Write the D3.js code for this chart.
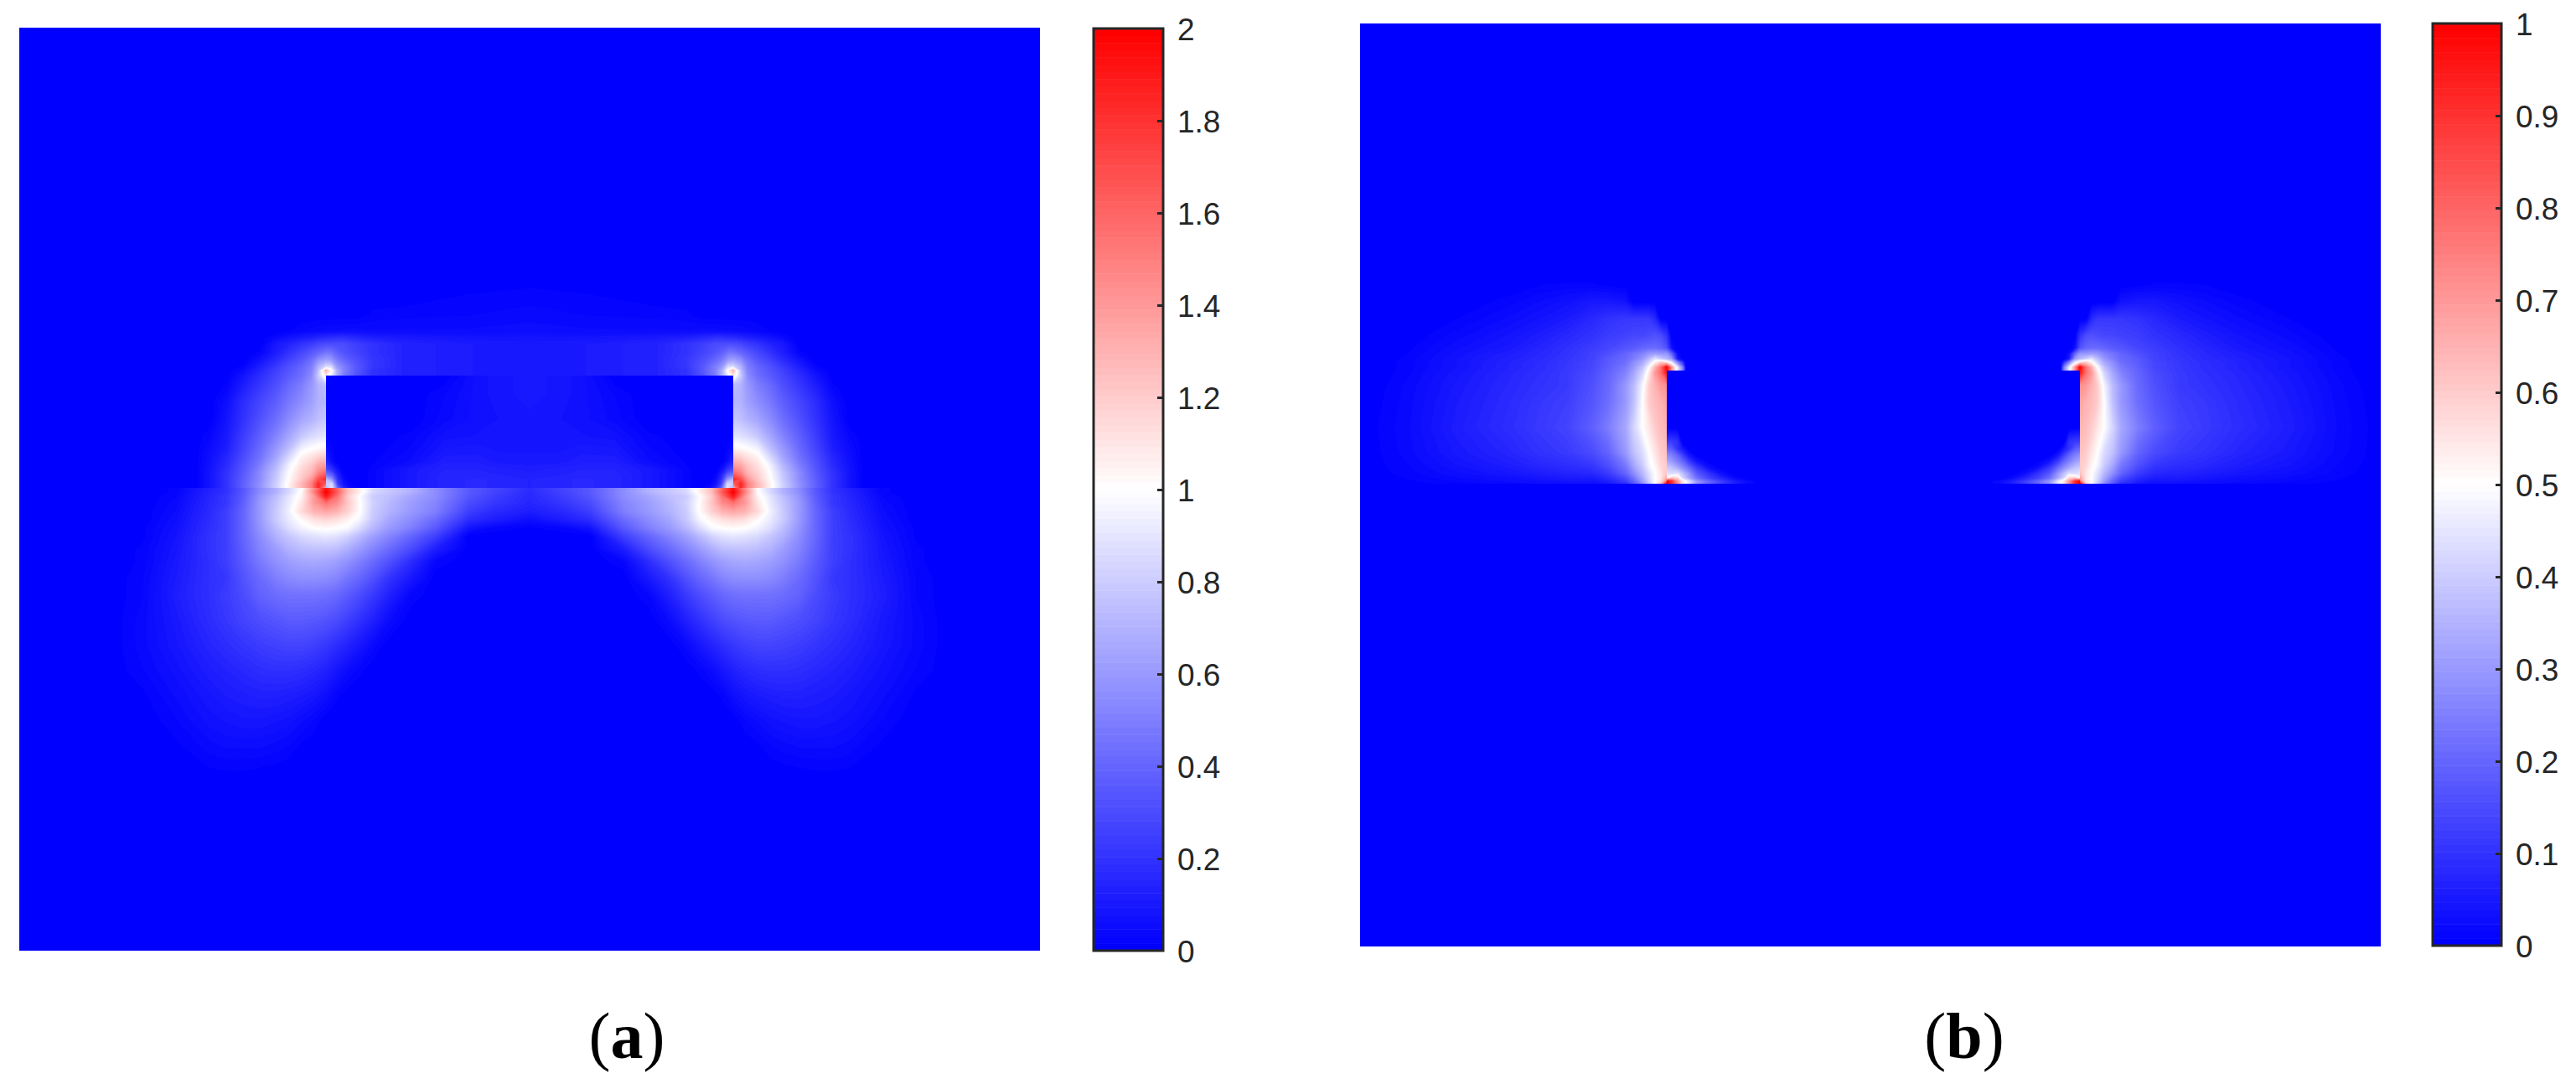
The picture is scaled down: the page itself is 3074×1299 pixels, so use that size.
<!DOCTYPE html>
<html>
<head>
<meta charset="utf-8">
<script src="https://cdn.jsdelivr.net/npm/d3@7"></script>
<style>
  html, body { margin: 0; padding: 0; background: #fff; }
  svg { display: block; }
  .cbar text { font-family: "Liberation Sans", Arial, sans-serif; font-size: 37px; fill: #262626; }
  .cbar line { stroke: #262626; stroke-width: 3px; }
  .caption { font-family: "Liberation Serif", "Times New Roman", serif; font-size: 78px; fill: #000; }
</style>
</head>
<body>
<div id="chart"></div>
<script>
// sample positions are in field units, left half of each panel only (right half is the mirror)
var aUpperX = [209, 227, 247, 267, 287, 307, 322, 337, 349, 357, 366, 372, 379, 387, 402, 422, 457, 537, 609];
var aUpperY = [287, 317, 342, 362, 369, 377, 387, 397, 404, 409, 415, 427, 447, 467, 487, 502, 512, 522, 532, 539, 544, 549];
var aUpper = [
  [0],
  [0,0,0,0,0,0,0,0,0,0,0,0,0,0,0,0,0,.015,.02],
  [0,0,0,0,0,0,0,0,0,0,0,0,0,0,0,.02,.025,.03,.04],
  [0,0,0,0,0,0,.015,.03,.04,.045,.05,.05,.05,.055,.055,.05,.05,.05,.055],
  [0,0,0,0,0,.04,.07,.1,.12,.14,.16,.17,.18,.18,.15,.12,.1,.08,.08],
  [0,0,0,0,0,.1,.14,.2,.24,.28,.3,.3,.3,.3,.25,.2,.14,.11,.1],
  [0,0,0,0,.02,.12,.2,.28,.35,.4,.45,.45,.38,.33,.27,.2,.14,.11,.1],
  [0,0,0,0,.08,.18,.27,.35,.45,.58,.65,.62,.5,.42,.32,.22,.14,.11,.1],
  [0,0,0,.02,.12,.23,.32,.4,.5,.7,.85,.85,.6,.5,.35,.22,.14,.11,.1],
  [0,0,0,.05,.15,.26,.34,.42,.52,.75,1.3,1.05,.7,.52,.35,.2,.14,.11,.1],
  [0,0,0,.08,.18,.28,.36,.44,.55,.8,1.1,.95,.7,.5,.33,.2,.14,.11,.1],
  [0,0,.02,.12,.22,.32,.42,.5,.6,.7,.75],
  [0,0,.06,.18,.28,.38,.48,.56,.63,.7,.72],
  [0,0,.08,.2,.32,.44,.55,.65,.7,.75,.78],
  [0,.03,.1,.24,.38,.52,.65,.78,.85,.88,.9],
  [0,.05,.12,.27,.42,.6,.75,.95,1,1.03,1.05],
  [0,.06,.15,.3,.45,.65,.85,1.05,1.12,1.18,1.22],
  [0,.07,.17,.33,.5,.72,.95,1.12,1.22,1.35,1.38],
  [0,.08,.2,.35,.55,.78,1,1.18,1.3,1.5,1.62],
  [0,.08,.2,.37,.55,.8,1.02,1.22,1.42,1.7,1.85],
  [0,.08,.2,.38,.57,.82,1.05,1.28,1.5,1.85,1.6],
  [0,.08,.2,.38,.57,.82,1.05,1.28,1.5,1.85,1.3]
];

var aLowerX = [107, 147, 187, 227, 247, 267, 287, 307, 322, 337, 352, 366, 379, 392, 407, 422, 442, 467, 497, 537, 567, 609];
var aLowerY = [549, 554, 559, 567, 577, 587, 597, 607, 622, 637, 657, 677, 707, 737, 767, 797, 827, 857, 887, 927];
var aLower = [
  [0,0,.02,.13,.2,.34,.54,.7,.85,1,1.45,1.9,1.6,1.25,1.05,.85,.78,.7,.55,.35,.28,.18],
  [0,0,.02,.14,.2,.35,.55,.7,.85,1.02,1.5,2,1.65,1.25,1.05,.85,.78,.7,.55,.35,.27,.17],
  [0,0,.03,.15,.22,.36,.58,.75,.9,1.05,1.4,1.9,1.55,1.2,.98,.8,.75,.65,.55,.34,.25,.16],
  [0,0,.04,.16,.22,.38,.6,.78,.92,1.1,1.4,1.55,1.45,1.22,1,.82,.72,.62,.52,.3,.22,.15],
  [0,0,.05,.17,.25,.4,.6,.8,.95,1.15,1.3,1.35,1.3,1.18,1,.8,.7,.6,.5,.25,.17,.12],
  [0,0,.06,.18,.25,.4,.6,.8,.92,1.02,1.12,1.15,1.12,1.05,.95,.78,.65,.55,.42,.18,.12,.06],
  [0,.01,.07,.19,.25,.4,.58,.75,.87,.95,1,1.02,1,.97,.85,.72,.6,.5,.35,.08,.03,.01],
  [0,.01,.08,.2,.25,.4,.55,.7,.78,.85,.88,.9,.88,.82,.72,.62,.52,.4,.25],
  [0,.02,.09,.2,.25,.38,.52,.62,.7,.74,.76,.76,.74,.68,.6,.52,.42,.3,.12],
  [0,.02,.1,.19,.25,.36,.48,.57,.62,.65,.66,.65,.62,.57,.5,.42,.32,.18,.03],
  [0,.03,.11,.19,.22,.33,.42,.5,.54,.56,.56,.55,.52,.46,.4,.32,.2,.1],
  [0,.03,.12,.19,.24,.3,.39,.43,.45,.45,.45,.44,.41,.36,.3,.23,.13,.03],
  [0,.04,.1,.18,.22,.27,.31,.34,.36,.36,.35,.33,.3,.25,.19,.13,.05],
  [0,.04,.09,.15,.18,.21,.24,.26,.27,.27,.25,.22,.18,.14,.09,.04],
  [0,.03,.07,.12,.14,.16,.18,.19,.19,.18,.16,.13,.09,.05,.02],
  [0,.01,.05,.09,.11,.12,.13,.13,.12,.11,.09,.06,.02],
  [0,0,.03,.07,.08,.09,.09,.08,.07,.05,.03],
  [0,0,.01,.04,.05,.05,.05,.04,.03,.01],
  [0,0,0,.012,.015,.015,.01,.005],
  [0]
];

var aHoleX = [366, 373, 380, 387, 394, 407, 467, 507, 547, 577, 609];
var aHoleY = [415, 437, 467, 487, 517, 527, 534, 539, 544, 549];
var aHole = [
  [0,0,0,0,0,0,0,0,.07,.09,.1],
  [0,0,0,0,0,0,0,.03,.07,.09,.1],
  [0,0,0,0,0,0,0,.04,.07,.08,.09],
  [.02,0,0,0,0,0,.02,.07,.08,.08,.08],
  [.15,.05,0,0,0,0,.05,.12,.12,.1,.1],
  [.3,.2,.07,0,0,0,.1,.14,.14,.13,.12],
  [.5,.4,.15,.03,0,0,.1,.15,.15,.14,.13],
  [.75,.6,.2,.05,0,0,.1,.15,.16,.15,.14],
  [.8,.85,.25,.08,.02,0,.1,.15,.16,.15,.14],
  [.7,.9,.4,.15,.05,0,.1,.15,.16,.15,.14]
];

var bUpperX = [17, 57, 117, 177, 217, 247, 277, 297, 317, 327, 337, 345, 352, 359, 366, 372, 379, 385, 389];
var bUpperY = [302, 312, 332, 352, 372, 387, 394, 400, 404, 410, 417, 432, 452, 482, 512, 527, 537, 544, 549];
var bUpper = [
  [0],
  [0,0,0,0,.008,.01,.01,.005],
  [0,0,0,.012,.025,.035,.05,.05,.04],
  [0,0,.008,.025,.04,.055,.08,.1,.11,.11,.11,.11,.08],
  [0,0,.02,.04,.06,.08,.1,.12,.13,.14,.14,.15,.16,.15,.1],
  [0,.005,.03,.05,.075,.095,.12,.14,.17,.18,.2,.21,.21,.2,.16,.03],
  [0,.008,.035,.06,.08,.1,.13,.16,.2,.23,.26,.3,.31,.3,.3,.2,.03],
  [0,.01,.04,.065,.085,.105,.13,.18,.21,.25,.3,.37,.45,.4,.36,.3,.05],
  [0,.012,.04,.07,.09,.11,.14,.18,.22,.28,.33,.42,.52,.6,.55,.45,.25,.1],
  [0,.012,.04,.07,.09,.11,.14,.19,.24,.3,.38,.5,.65,.78,1,.7,.45,.25],
  [0,.014,.045,.075,.095,.115,.15,.2,.26,.33,.42,.55,.7,.78,.95,.7,.45,.25],
  [.002,.018,.05,.08,.1,.115,.16,.21,.3,.37,.48,.6,.65,.7,.72],
  [.004,.02,.055,.085,.11,.125,.17,.22,.3,.38,.5,.6,.63,.65,.68],
  [.006,.022,.06,.09,.115,.135,.19,.25,.33,.42,.5,.55,.6,.63,.65],
  [.005,.02,.05,.075,.1,.115,.15,.2,.3,.38,.43,.5,.55,.6,.62],
  [.004,.015,.04,.06,.08,.09,.11,.16,.24,.33,.4,.48,.52,.58,.6],
  [.003,.012,.03,.045,.06,.07,.08,.12,.2,.28,.36,.44,.5,.55,.62],
  [.002,.008,.02,.03,.04,.05,.05,.08,.14,.22,.32,.42,.5,.55,.7],
  [0,.004,.012,.02,.025,.03,.03,.05,.1,.18,.28,.4,.5,.6,1]
];

var bWedgeX = [366, 372, 379, 385, 392, 402, 417, 432, 447, 462];
var bWedgeY = [482, 499, 507, 515, 522, 530, 537, 542, 546, 549];
var bWedge = [
  [0],
  [.12,.12,.1],
  [.2,.18,.1,.05],
  [.28,.25,.2,.13,.05],
  [.33,.3,.25,.2,.12,.04],
  [.4,.38,.33,.28,.22,.12,.03],
  [.45,.43,.45,.38,.3,.18,.1,.03],
  [.48,.6,.58,.42,.33,.22,.13,.07,.02],
  [1,.9,.7,.55,.45,.3,.2,.12,.06,.02],
  [1,.9,.7,.55,.45,.3,.2,.12,.06,.02]
];

var aTicks = [0, 0.2, 0.4, 0.6, 0.8, 1, 1.2, 1.4, 1.6, 1.8, 2];
var bTicks = [0, 0.1, 0.2, 0.3, 0.4, 0.5, 0.6, 0.7, 0.8, 0.9, 1];
var captions = ["a", "b"];

var width = 3074, height = 1299;
var levels = 128;

var svg = d3.select("#chart").append("svg")
  .attr("width", width)
  .attr("height", height);
var defs = svg.append("defs");

function colormap(max) {
  return d3.scaleLinear().domain([0, max / 2, max]).range(["#0000ff", "#ffffff", "#ff0000"]);
}

// one block of samples, contoured on its own grid and cut to the given field rects
function drawLayer(g, rows, xs, ys, clipRects, id, p) {
  var n = xs.length, m = ys.length;
  var values = [];
  rows.forEach(function (r) {
    for (var i = 0; i < n; i++) { values.push(r[i] || 0); }
  });
  // contour coordinates sit half a cell off the sample index
  var ix = d3.scaleLinear().domain(xs.map(function (d, i) { return i + 0.5; })).range(xs.map(p.x));
  var iy = d3.scaleLinear().domain(ys.map(function (d, i) { return i + 0.5; })).range(ys.map(p.y));
  var path = d3.geoPath(d3.geoTransform({
    point: function (x, y) { this.stream.point(ix(x), iy(y)); }
  }));
  var color = colormap(p.max);
  var thresholds = d3.range(1, levels).map(function (i) { return i * p.max / levels; });
  var contours = d3.contours().size([n, m]).thresholds(thresholds)(values);

  var clip = defs.append("clipPath").attr("id", id);
  clipRects.forEach(function (c) {
    clip.append("rect")
      .attr("x", p.x(c[0])).attr("y", p.y(c[1]))
      .attr("width", p.x(c[2]) - p.x(c[0])).attr("height", p.y(c[3]) - p.y(c[1]));
  });

  g.append("g").attr("clip-path", "url(#" + id + ")")
    .selectAll("path")
    .data(contours.filter(function (c) { return c.coordinates.length > 0; }))
    .enter().append("path")
    .attr("d", path)
    .attr("fill", function (c) {
      return color(Math.round(c.value / p.max * levels) / (levels - 1) * p.max);
    });
}

function drawPanel(p, layers, mid) {
  p.x = d3.scaleLinear().domain([0, 1218]).range([p.left, p.left + 1218]);
  p.y = d3.scaleLinear().domain([0, p.h]).range([p.top, p.top + p.h]);

  defs.append("clipPath").attr("id", p.id + "clip").append("rect")
    .attr("x", p.left).attr("y", p.top).attr("width", 1218).attr("height", p.h);
  var panel = svg.append("g").attr("clip-path", "url(#" + p.id + "clip)");

  panel.append("rect")
    .attr("x", p.left).attr("y", p.top).attr("width", 1218).attr("height", p.h)
    .attr("fill", "#0000ff");

  var sides = [
    { name: "L", tr: null },
    { name: "R", tr: "translate(" + (2 * mid) + ",0) scale(-1,1)" }
  ];
  sides.forEach(function (s) {
    var g = panel.append("g");
    if (s.tr) { g.attr("transform", s.tr); }
    layers.forEach(function (l, i) {
      drawLayer(g, l.rows, l.xs, l.ys, l.clip, p.id + s.name + i, p);
    });
  });
}

function drawColorbar(c) {
  var y = d3.scaleLinear().domain([0, c.max]).range([c.bottom, c.top]);
  var color = colormap(c.max);
  var g = svg.append("g").attr("class", "cbar");

  g.selectAll("rect.band")
    .data(d3.range(levels))
    .enter().append("rect")
    .attr("class", "band")
    .attr("x", c.left)
    .attr("y", function (d) { return y((d + 1) * c.max / levels); })
    .attr("width", c.right - c.left)
    .attr("height", function (d) { return y(d * c.max / levels) - y((d + 1) * c.max / levels) + 0.5; })
    .attr("fill", function (d) { return color(d / (levels - 1) * c.max); });

  g.append("rect")
    .attr("x", c.left).attr("y", c.top)
    .attr("width", c.right - c.left).attr("height", c.bottom - c.top)
    .attr("fill", "none").attr("stroke", "#262626").attr("stroke-width", 3);

  var axis = d3.axisRight(y).tickValues(c.ticks).tickSize(-7).tickPadding(17).tickFormat(d3.format("~g"));
  g.append("g")
    .attr("transform", "translate(" + c.right + ",0)")
    .call(axis)
    .call(function (a) { a.select(".domain").remove(); a.attr("font-family", null).attr("font-size", null); });

  g.selectAll(".tick text").attr("dy", "0.36em");

  // end ticks are hidden by the frame
  g.selectAll(".tick line").filter(function (d) { return d === 0 || d === c.max; }).remove();
}

function drawCaption(label, x, y) {
  var t = svg.append("text").attr("class", "caption").attr("x", x).attr("y", y).attr("text-anchor", "middle");
  t.append("tspan").text("(");
  t.append("tspan").attr("font-weight", "bold").text(label);
  t.append("tspan").text(")");
}

// panel a: field rows above the interface, the block itself, field rows below
drawPanel({ id: "a", left: 23, top: 33, h: 1101, max: 2 }, [
  { rows: aUpper, xs: aUpperX, ys: aUpperY, clip: [[0, 0, 610, 415], [0, 415, 366, 549]] },
  { rows: aHole, xs: aHoleX, ys: aHoleY, clip: [[366, 415, 610, 549]] },
  { rows: aLower, xs: aLowerX, ys: aLowerY, clip: [[0, 549, 610, 1101]] }
], 632);

// panel b: lobe left of the wall, wedge at its foot
drawPanel({ id: "b", left: 1623, top: 28, h: 1101, max: 1 }, [
  { rows: bUpper, xs: bUpperX, ys: bUpperY, clip: [[0, 0, 420, 414], [0, 414, 366, 549]] },
  { rows: bWedge, xs: bWedgeX, ys: bWedgeY, clip: [[366, 470, 480, 549]] }
], 2235.5);

drawColorbar({ left: 1305, right: 1388, top: 34, bottom: 1134, max: 2, ticks: aTicks });
drawColorbar({ left: 2903, right: 2985, top: 28, bottom: 1128, max: 1, ticks: bTicks });

drawCaption(captions[0], 748, 1262);
drawCaption(captions[1], 2344, 1262);
</script>
</body>
</html>
